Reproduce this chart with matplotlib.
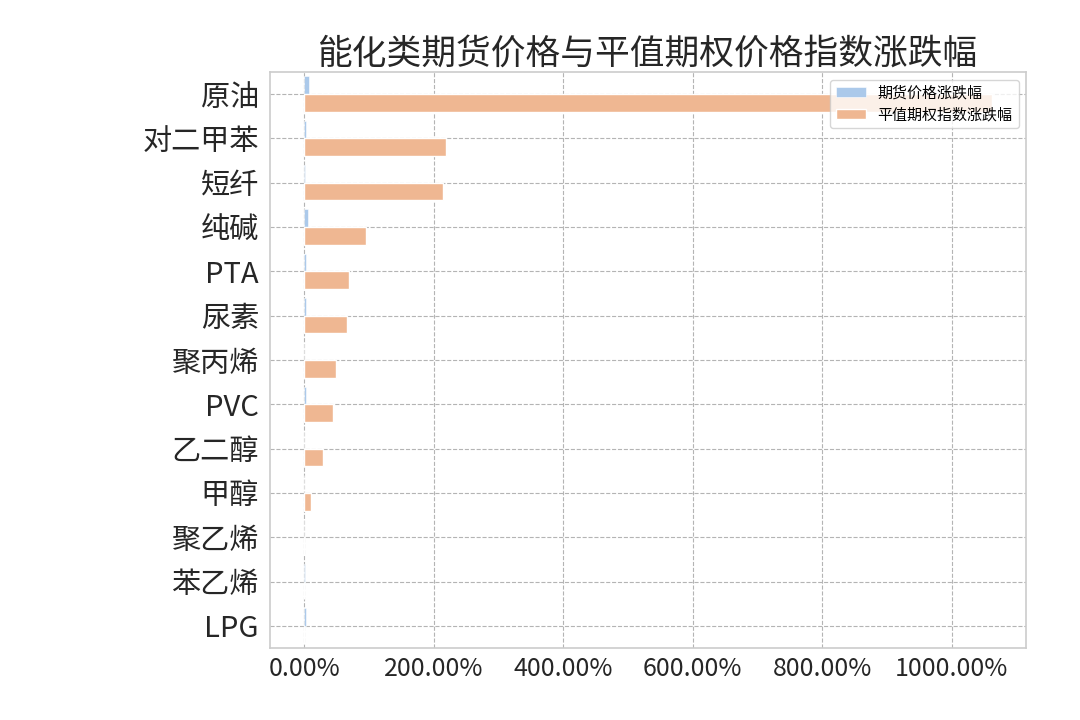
import matplotlib
matplotlib.use("Agg")
import matplotlib.pyplot as plt
from matplotlib.ticker import PercentFormatter
import numpy as np

plt.rcParams['font.family'] = ['Noto Sans CJK SC', 'DejaVu Sans']
plt.rcParams['axes.unicode_minus'] = False

categories = ['原油', '对二甲苯', '短纤', '纯碱', 'PTA', '尿素', '聚丙烯',
              'PVC', '乙二醇', '甲醇', '聚乙烯', '苯乙烯', 'LPG']
futures_change = [7.8, 2.5, 0.8, 5.7, 2.5, 2.5, 0.0, 2.0, -0.3, 0.0, -0.2, 1.0, 2.5]
options_change = [1062.0, 219.0, 215.0, 95.0, 69.0, 66.0, 49.0, 44.5, 29.0, 10.0, 0.0, 0.0, 0.0]
series_names = ['期货价格涨跌幅', '平值期权指数涨跌幅']
title_text = '能化类期货价格与平值期权价格指数涨跌幅'

blue = '#abc9ea'
orange = '#efb792'

fig = plt.figure(figsize=(10.8, 7.2), dpi=100)
ax = fig.add_axes([0.25, 0.1, 0.70, 0.80])

y = np.arange(len(categories))
h = 0.4
ax.barh(y - h / 2, futures_change, height=h, color=blue, edgecolor='white',
        linewidth=0.4, label=series_names[0], zorder=2)
ax.barh(y + h / 2, options_change, height=h, color=orange, edgecolor='white',
        linewidth=1.0, label=series_names[1], zorder=2)

ax.set_yticks(y)
ax.set_yticklabels(categories, fontsize=21, color='#262626')
ax.set_ylim(len(categories) - 0.5, -0.5)
ax.set_xlim(-53, 1115)
ax.set_xticks([0, 200, 400, 600, 800, 1000])
ax.xaxis.set_major_formatter(PercentFormatter(xmax=100, decimals=2))
ax.tick_params(axis='x', labelsize=18, colors='#262626', length=0, pad=6)
ax.tick_params(axis='y', length=0, pad=8)

ax.grid(True, linestyle='--', color='#b4b4b4', linewidth=0.8, zorder=0)
ax.set_axisbelow(True)
for s in ax.spines.values():
    s.set_color('#cccccc')
    s.set_linewidth(1.2)

ax.set_title(title_text, fontsize=25, color='#262626', pad=6)
ax.legend(loc='upper right', fontsize=10.8, frameon=True, edgecolor='#cccccc')

fig.savefig('out.png', dpi=100)
